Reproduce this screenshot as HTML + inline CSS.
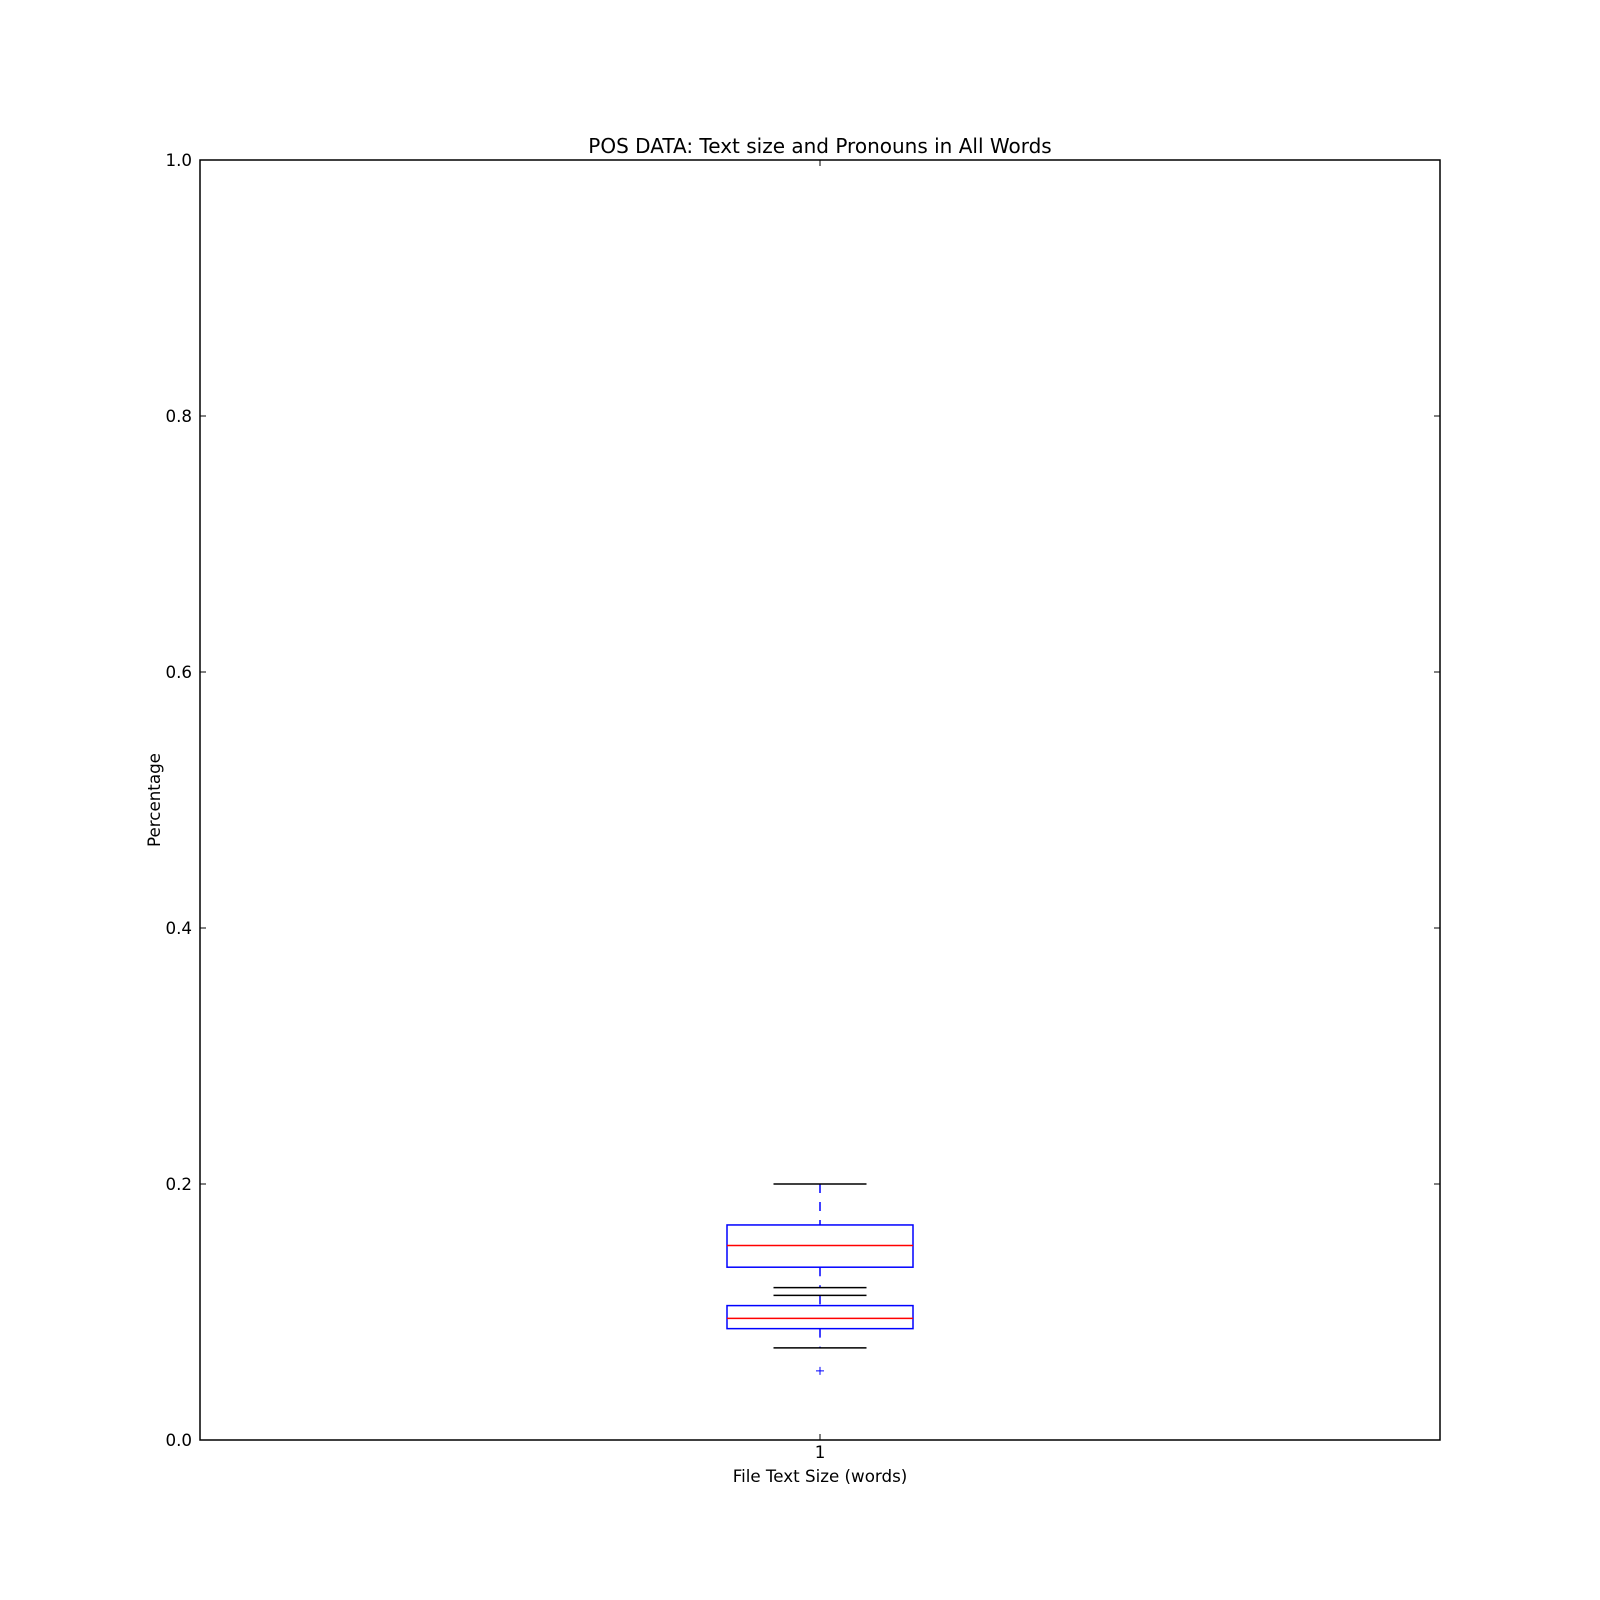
<!DOCTYPE html>
<html><head><meta charset="utf-8"><style>
html,body{margin:0;padding:0;background:#fff}
svg{display:block;font-family:"DejaVu Sans","Liberation Sans",sans-serif}
</style></head><body>
<svg id="chart" width="1600" height="1600" viewBox="0 0 1600 1600">
<rect x="0" y="0" width="1600" height="1600" fill="#fff"/>
<text x="820" y="153" font-size="20" text-anchor="middle">POS DATA: Text size and Pronouns in All Words</text>
<g id="marks"></g>
<rect x="200" y="160" width="1240" height="1280" fill="none" stroke="#000" stroke-width="1.5"/>
<g id="ticks"></g>
<text x="820" y="1482" font-size="16.7" text-anchor="middle">File Text Size (words)</text>
<text x="0" y="0" font-size="16.7" text-anchor="middle" transform="translate(160,800) rotate(-90)">Percentage</text>
</svg>
<script>
const yTicks=[0.0,0.2,0.4,0.6,0.8,1.0];
const yTickLabels=["0.0","0.2","0.4","0.6","0.8","1.0"];
const xTicks=[1];
const xTickLabels=["1"];
const boxPositions=[1,1];
const whiskerLow=[0.119,0.072];
const q1=[0.135,0.087];
const medians=[0.152,0.095];
const q3=[0.168,0.105];
const whiskerHigh=[0.200,0.113];
const fliers=[[],[0.054]];
const NS="http://www.w3.org/2000/svg";
const X0=200,X1=1440,Y0=160,Y1=1440;
function xs(v){return X0+(v-0.5)/(1.0)*(X1-X0);}
function ys(v){return Y1-v*(Y1-Y0);}
function mk(tag,attrs,parent){const e=document.createElementNS(NS,tag);for(const k in attrs)e.setAttribute(k,attrs[k]);parent.appendChild(e);return e;}
const marks=document.getElementById('marks');
const ticks=document.getElementById('ticks');
yTicks.forEach((t,i)=>{
  const y=ys(t);
  const a=mk('line',{x1:X0,x2:X0+6,y1:y,y2:y,stroke:'#000','stroke-width':1},ticks);
  
  
  const b=mk('line',{x1:X1-6,x2:X1,y1:y,y2:y,stroke:'#000','stroke-width':1},ticks);
  
  
  const tx=mk('text',{x:X0-8,y:y+6,'font-size':16.7,'text-anchor':'end'},ticks);
  tx.textContent=yTickLabels[i];
  
  
});
xTicks.forEach((t,i)=>{
  const x=xs(t);
  const a=mk('line',{x1:x,x2:x,y1:Y1-6,y2:Y1,stroke:'#000','stroke-width':1},ticks);
  
  
  const b=mk('line',{x1:x,x2:x,y1:Y0,y2:Y0+6,stroke:'#000','stroke-width':1},ticks);
  
  
  const tx=mk('text',{x:x,y:Y1+18,'font-size':16.7,'text-anchor':'middle'},ticks);
  tx.textContent=xTickLabels[i];
  
  
});
const boxHalf=0.075,capHalf=0.0375;
boxPositions.forEach((p,i)=>{
  const cx=xs(p);
  const g=mk('g',{},marks);
  
  
  const w1=mk('line',{x1:cx,x2:cx,y1:ys(whiskerHigh[i]),y2:ys(q3[i]),stroke:'#0000ff','stroke-width':1.5,'stroke-dasharray':'9,9'},g);
  
  
  const w2=mk('line',{x1:cx,x2:cx,y1:ys(q1[i]),y2:ys(whiskerLow[i]),stroke:'#0000ff','stroke-width':1.5,'stroke-dasharray':'9,9'},g);
  
  
  const c1=mk('line',{x1:xs(p-capHalf),x2:xs(p+capHalf),y1:ys(whiskerHigh[i]),y2:ys(whiskerHigh[i]),stroke:'#000','stroke-width':1.5},g);
  
  
  const c2=mk('line',{x1:xs(p-capHalf),x2:xs(p+capHalf),y1:ys(whiskerLow[i]),y2:ys(whiskerLow[i]),stroke:'#000','stroke-width':1.5},g);
  
  
  const r=mk('rect',{x:xs(p-boxHalf),y:ys(q3[i]),width:xs(p+boxHalf)-xs(p-boxHalf),height:ys(q1[i])-ys(q3[i]),fill:'none',stroke:'#0000ff','stroke-width':1.5},g);
  
  
  const m=mk('line',{x1:xs(p-boxHalf),x2:xs(p+boxHalf),y1:ys(medians[i]),y2:ys(medians[i]),stroke:'#ff0000','stroke-width':1.5},g);
  
  
  fliers[i].forEach(f=>{
    const fy=ys(f);
    const fl=mk('path',{d:`M${cx-4},${fy}H${cx+4}M${cx},${fy-4}V${fy+4}`,stroke:'#0000ff','stroke-width':1,fill:'none'},g);
    
    
  });
});
</script>
</body></html>
